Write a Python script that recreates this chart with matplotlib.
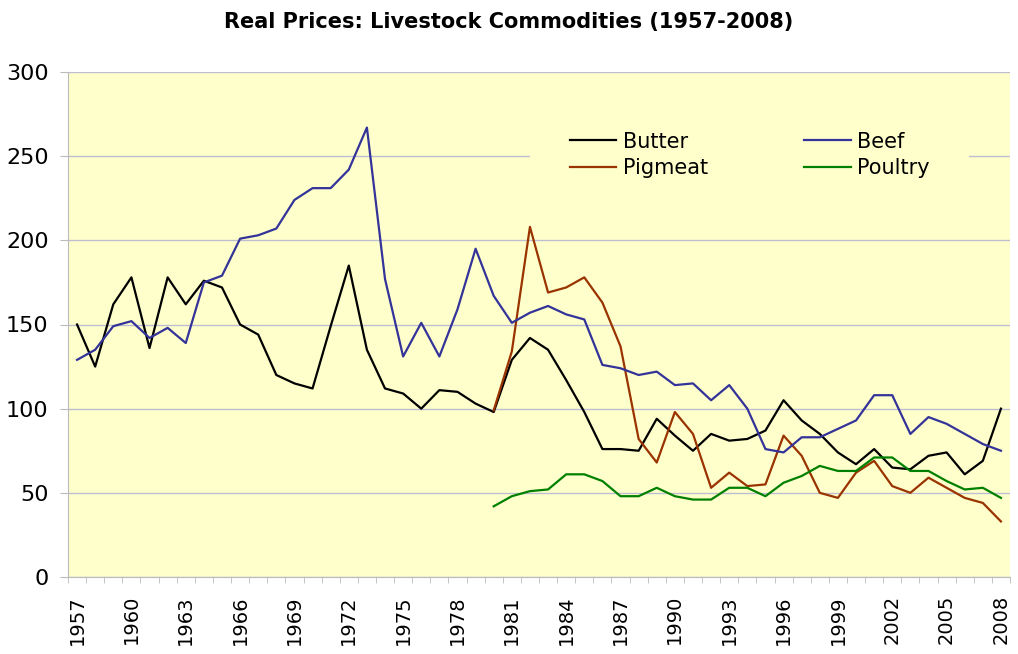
import matplotlib.pyplot as plt
import numpy as np

years = list(range(1957, 2009))

butter = [150, 125, 162, 178, 136, 178, 162, 176, 172, 150, 144, 120, 115, 112, 149, 185, 135,
          112, 109, 100, 111, 110, 103, 98, 129, 142, 135, 117, 98, 76, 76, 75, 94, 84, 75, 85, 81, 82,
          87, 105, 93, 85, 74, 67, 76, 65, 64, 72, 74, 61, 69, 100]
beef = [129, 135, 149, 152, 142, 148, 139, 175, 179, 201, 203, 207, 224, 231, 231, 242, 267,
        177, 131, 151, 131, 159, 195, 167, 151, 157, 161, 156, 153, 126, 124, 120, 122, 114, 115,
        105, 114, 100, 76, 74, 83, 83, 88, 93, 108, 108, 85, 95, 91, 85, 79, 75]
# pigmeat and poultry start in 1980
pigmeat = [None] * 23 + [99, 134, 208, 169, 172, 178, 163, 137, 82, 68, 98, 85, 53, 62, 54, 55, 84,
                         72, 50, 47, 62, 69, 54, 50, 59, 53, 47, 44, 33]
poultry = [None] * 23 + [42, 48, 51, 52, 61, 61, 57, 48, 48, 53, 48, 46, 46, 53, 53, 48, 56, 60, 66,
                         63, 63, 71, 71, 63, 63, 57, 52, 53, 47]

series = [
    ("Butter", butter, "black"),
    ("Pigmeat", pigmeat, "#993300"),
    ("Beef", beef, "#333399"),
    ("Poultry", poultry, "#008000"),
]


def to_arr(vals):
    return np.array([np.nan if v is None else v for v in vals], dtype=float)


fig = plt.figure(figsize=(10.18, 6.54), dpi=100)
ax = fig.add_axes([68 / 1018, 1 - 577 / 654, (1010 - 68) / 1018, (577 - 72) / 654])
ax.set_facecolor("#FFFFCC")

x = np.arange(len(years))
for name, vals, color in series:
    ax.plot(x, to_arr(vals), color=color, linewidth=1.6, label=name, zorder=3)

ax.set_xlim(-0.5, len(years) - 0.5)
ax.set_ylim(0, 300)
ax.set_yticks(np.arange(0, 301, 50))
ax.yaxis.grid(True, color="#BEBED2", linewidth=1)
ax.set_axisbelow(True)

ax.set_xticks(x[::3])
ax.set_xticklabels([str(y) for y in years[::3]], rotation=90)
ax.set_xticks(np.arange(-0.5, len(years), 1), minor=True)
ax.tick_params(axis="x", which="major", length=0, labelsize=14, pad=13)
ax.tick_params(axis="x", which="minor", length=4.5, color="#BBBBBB")
ax.tick_params(axis="y", length=6, color="#BBBBBB", labelsize=16, pad=8)

for side in ["top", "right"]:
    ax.spines[side].set_visible(False)
ax.spines["left"].set_color("#BBBBBB")
ax.spines["bottom"].set_color("#BBBBBB")

leg = ax.legend(
    ncol=2,
    loc="upper left",
    bbox_to_anchor=(530 / 1018, 1 - 92 / 654),
    bbox_transform=fig.transFigure,
    fontsize=15,
    frameon=True,
    facecolor="#FFFFCC",
    edgecolor="none",
    framealpha=1,
    fancybox=False,
    borderpad=1.9,
    borderaxespad=0,
    handlelength=2.25,
    handletextpad=0.3,
    columnspacing=4.6,
    labelspacing=0.3,
)
leg.set_zorder(2)

fig.suptitle("Real Prices: Livestock Commodities (1957-2008)", fontsize=15,
             fontweight="bold", y=1 - 22 / 654, va="center")

plt.savefig("out.png", dpi=100)
